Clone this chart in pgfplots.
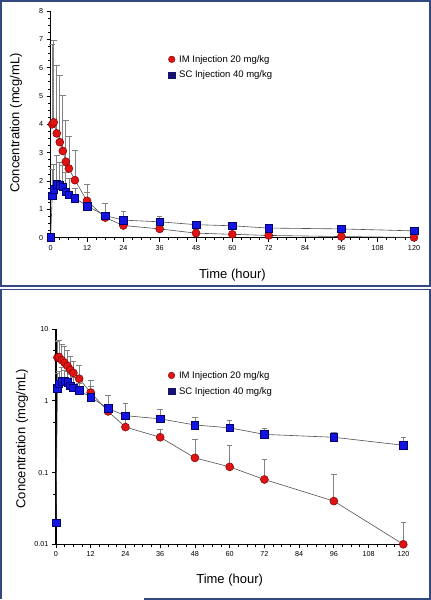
\documentclass[border=0pt]{standalone}
\usepackage{fontspec}
\setmainfont{Liberation Sans}
\usepackage{pgfplots}
\pgfplotsset{compat=1.18}
\usepackage{pgfplotstable}

\definecolor{framec}{RGB}{52,72,130}
\definecolor{imfill}{RGB}{222,20,20}
\definecolor{imedge}{RGB}{130,0,0}
\definecolor{scfill}{RGB}{20,20,225}
\definecolor{scedge}{RGB}{0,0,110}
\definecolor{legsc}{RGB}{20,20,110}
\definecolor{linec}{RGB}{80,80,80}
\definecolor{errc}{RGB}{130,130,130}

\pgfplotstableread{
t y ey
0.5 4.00 2.83
1 4.07 2.90
2 3.68 2.39
3 3.37 2.35
4 3.06 1.95
5 2.68 1.46
6 2.44 1.13
8 2.03 1.04
12 1.30 0.60
18 0.71 0.14
24 0.43 0.12
36 0.31 0.09
48 0.16 0.13
60 0.12 0.12
72 0.08 0.074
96 0.04 0.053
120 0.01 0.0104
}\imdata

\pgfplotstableread{
t y ey
0 0.02 0
0.5 1.48 0.92
1 1.72 0.88
2 1.88 1.02
3 1.86 0.79
4 1.80 0.75
5 1.62 0.68
6 1.52 0.58
8 1.40 0.35
12 1.12 0.48
18 0.78 0.42
24 0.62 0.30
36 0.56 0.21
48 0.46 0.12
60 0.42 0.11
72 0.34 0.07
96 0.31 0.05
120 0.24 0.07
}\scdata

\pgfplotsset{
  panel/.style={
    scale only axis, clip=false,
    axis x line*=bottom, axis y line*=left,
    axis line style={line width=1.1pt, -},
    tick align=outside,
    major tick length=4pt, minor tick length=2.5pt,
    every tick/.style={black, line width=0.8pt},
    xmin=0, xmax=120, xtick={0,12,...,120}, minor x tick num=3,
    /pgf/number format/assume math mode=true,
    ticklabel style={font=\fontsize{7.2}{8}\selectfont},
    label style={font=\fontsize{13}{15}\selectfont},
    xlabel={Time (hour)}, ylabel={Concentration (mcg/mL)},
    legend style={draw=none, fill=none, inner sep=0pt, anchor=north west,
      font=\fontsize{9.5}{11}\selectfont, row sep=3.5pt, cells={anchor=west}},
  },
  errs/.style={draw=none, mark=none, forget plot,
    error bars/.cd, y dir=plus, y explicit,
    error bar style={color=errc, line width=0.7pt},
    error mark options={rotate=90, mark size=2.8pt, color=errc, line width=0.7pt}},
  ln/.style={color=linec, line width=0.6pt, mark=none, forget plot},
  imm/.style={only marks, mark=*, mark size=4pt, mark options={fill=imfill, draw=imedge, line width=0.5pt}, forget plot},
  scm/.style={only marks, mark=square*, mark size=3.8pt, mark options={fill=scfill, draw=scedge, line width=0.5pt}, forget plot},
  legimg/.style={legend image code/.code={\draw[##1] plot coordinates {(3.5pt,0pt)}; \path[draw=none, fill=none] (0pt,0pt) rectangle (9pt,0.1pt);}},
}

\begin{document}
\begin{tikzpicture}
\useasboundingbox (0,0) rectangle (431pt,600pt);
% panel frames
\draw[framec, line width=1.6pt] (0.8pt,314pt) rectangle (430.2pt,599.2pt);
\draw[framec, line width=1.6pt] (144pt,0.8pt) -- (430.2pt,0.8pt) -- (430.2pt,310.5pt) -- (0.8pt,310.5pt) -- (0.8pt,1pt);

% ---------- top: linear ----------
\begin{axis}[panel,
  at={(50.7pt,362.3pt)}, anchor=south west,
  width=363.3pt, height=226.7pt,
  ymin=0, ymax=8, ytick={0,1,...,8}, minor y tick num=3,
  xlabel style={at={(axis description cs:0.5,-0.1645)}, anchor=center},
  ylabel style={at={(axis description cs:-0.0955,0.506)}, anchor=center},
  legend style={at={(axis description cs:0.323,0.815)}},
]
\addplot[ln] table[x=t,y=y] {\scdata};
\addplot[ln] table[x=t,y=y] {\imdata};
\addplot[errs] table[x=t,y=y,y error=ey] {\imdata};
\addplot[errs] table[x=t,y=y,y error=ey] {\scdata};
\addplot[imm] table[x=t,y=y] {\imdata};
\addplot[scm] table[x=t,y=y] {\scdata};
\addlegendimage{only marks, mark=*, mark size=3.3pt, mark options={fill=imfill, draw=imedge}, legimg}
\addlegendentry{IM Injection 20 mg/kg}
\addlegendimage{only marks, mark=square*, mark size=3.2pt, mark options={fill=legsc, draw=legsc}, legimg}
\addlegendentry{SC Injection 40 mg/kg}
\end{axis}

% ---------- bottom: log ----------
\begin{axis}[panel,
  at={(56pt,55.7pt)}, anchor=south west,
  width=347.3pt, height=215.3pt,
  ymode=log, ymin=0.01, ymax=10,
  ytick={0.01,0.1,1,10}, yticklabels={0.01,0.1,1,10},
  minor ytick={0.05,0.5,5},
  xlabel style={at={(axis description cs:0.5,-0.1658)}, anchor=center},
  ylabel style={at={(axis description cs:-0.0979,0.49)}, anchor=center},
  legend style={at={(axis description cs:0.322,0.814)}},
]
\addplot[ln] table[x=t,y=y] {\scdata};
\addplot[ln] table[x=t,y=y] {\imdata};
\addplot[errs] table[x=t,y=y,y error=ey] {\imdata};
\addplot[errs] table[x=t,y=y,y error=ey] {\scdata};
\addplot[imm] table[x=t,y=y] {\imdata};
\addplot[scm] table[x=t,y=y] {\scdata};
\addlegendimage{only marks, mark=*, mark size=3.3pt, mark options={fill=imfill, draw=imedge}, legimg}
\addlegendentry{IM Injection 20 mg/kg}
\addlegendimage{only marks, mark=square*, mark size=3.2pt, mark options={fill=legsc, draw=legsc}, legimg}
\addlegendentry{SC Injection 40 mg/kg}
\end{axis}
\end{tikzpicture}
\end{document}
